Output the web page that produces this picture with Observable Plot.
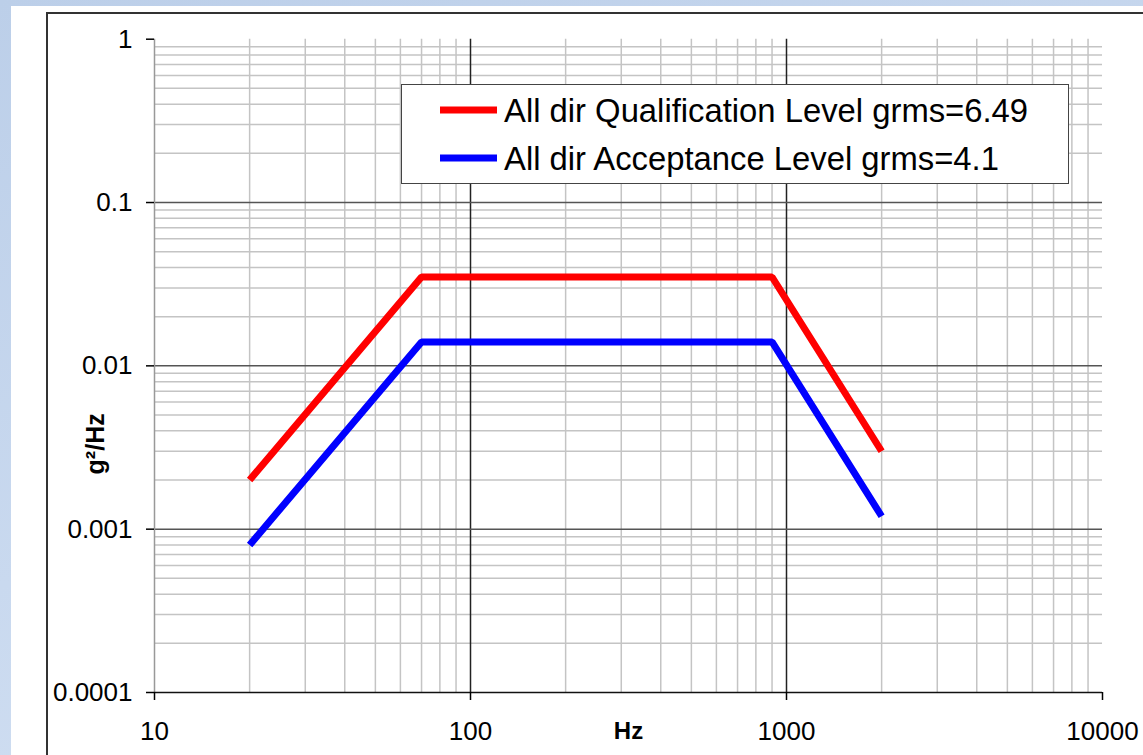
<!DOCTYPE html>
<html>
<head>
<meta charset="utf-8">
<script src="https://cdn.jsdelivr.net/npm/d3@7"></script>
<script src="https://cdn.jsdelivr.net/npm/@observablehq/plot@0.6"></script>
<style>
  html, body { margin: 0; padding: 0; width: 1143px; height: 755px; overflow: hidden; }
  body { background: linear-gradient(160deg, #bccfe9 0%, #c9d9ef 50%, #d6e3f3 100%); position: relative; font-family: "Liberation Sans", Arial, sans-serif; }
  #paper { position: absolute; left: 11px; top: 6px; width: 1200px; height: 800px; background: #fff; }
  #border { position: absolute; left: 46px; top: 12px; width: 1200px; height: 800px; border-left: 2px solid #333; border-top: 2px solid #333; }
  #chart { position: absolute; left: 0; top: 0; }
  #legend { position: absolute; left: 401px; top: 84px; width: 666px; height: 98px; background: #fff; border: 1.5px solid #444; }
  #chart g[aria-label$="tick label"], #chart g[aria-label$="tick label"] text { font-size: 26px !important; }
</style>
</head>
<body>
<div id="paper"></div>
<div id="border"></div>
<div id="chart"></div>
<div id="legend"></div>
<script>
// ---- data ----
const freq = [20, 70, 900, 2000];
const qualification = [0.002, 0.035, 0.035, 0.003];
const acceptance = [0.0008, 0.014, 0.014, 0.0012];
const seriesNames = ["All dir Qualification Level grms=6.49", "All dir Acceptance Level grms=4.1"];
const seriesColors = ["#ff0000", "#0000ff"];
const xTickValues = [10, 100, 1000, 10000];
const xTickLabels = ["10", "100", "1000", "10000"];
const yTickValues = [1, 0.1, 0.01, 0.001, 0.0001];
const yTickLabels = ["1", "0.1", "0.01", "0.001", "0.0001"];
const xLabel = "Hz";
const yLabel = "g²/Hz";

// ---- table ----
const rows = [];
freq.forEach((f, i) => rows.push({series: seriesNames[0], f, v: qualification[i]}));
freq.forEach((f, i) => rows.push({series: seriesNames[1], f, v: acceptance[i]}));

const isDecade = v => Math.abs(Math.log10(v) - Math.round(Math.log10(v))) < 1e-9;
const xAll = d3.scaleLog().domain([10, 10000]).ticks();
const yAll = d3.scaleLog().domain([1e-4, 1]).ticks();
const xMinor = xAll.filter(v => !isDecade(v));
const yMinor = yAll.filter(v => !isDecade(v));
const xMajor = [100, 1000];
const yMajor = [0.1, 0.01, 0.001];

const xFmt = new Map(xTickValues.map((v, i) => [v, xTickLabels[i]]));
const yFmt = new Map(yTickValues.map((v, i) => [v, yTickLabels[i]]));

const chart = Plot.plot({
  width: 1143,
  height: 755,
  marginLeft: 154,
  marginRight: 41,
  marginTop: 38.7,
  marginBottom: 63,
  style: {background: "transparent", fontFamily: "'Liberation Sans', Arial, sans-serif", fontSize: "26px", color: "#000", overflow: "visible"},
  x: {type: "log", domain: [10, 10000]},
  y: {type: "log", domain: [1e-4, 1]},
  color: {domain: seriesNames, range: seriesColors},
  marks: [
    Plot.ruleX(xMinor, {stroke: "#c4c4c4", strokeWidth: 1.5}),
    Plot.ruleY(yMinor, {stroke: "#c4c4c4", strokeWidth: 1.5}),
    Plot.ruleX(xMajor, {stroke: "#222", strokeWidth: 1.5}),
    Plot.ruleY(yMajor, {stroke: "#555", strokeWidth: 1.5}),
    Plot.ruleX([10], {stroke: "#999", strokeWidth: 1.5}),
    Plot.ruleY([1e-4], {stroke: "#111", strokeWidth: 1.5}),
    Plot.axisY({ticks: yTickValues, tickFormat: d => yFmt.get(d), tickSize: 8, tickPadding: 14, fontSize: 26, label: null, stroke: "#000", strokeWidth: 1.5}),
    Plot.axisX({ticks: xTickValues, tickFormat: d => xFmt.get(d), tickSize: 8, tickPadding: 21, fontSize: 26, label: null, stroke: "#000", strokeWidth: 1.5}),
    Plot.text([xLabel], {frameAnchor: "bottom", text: d => d, dy: 39, lineAnchor: "middle", fontWeight: "bold", fontSize: 24}),
    Plot.text([yLabel], {frameAnchor: "left", text: d => d, dx: -59, dy: 78, rotate: -90, textAnchor: "middle", lineAnchor: "middle", fontWeight: "bold", fontSize: 25}),
    Plot.line(rows, {x: "f", y: "v", z: "series", stroke: "series", strokeWidth: 7, strokeLinejoin: "miter", strokeLinecap: "butt"})
  ]
});
document.getElementById("chart").appendChild(chart);

// ---- legend ----
const ns = "http://www.w3.org/2000/svg";
const lg = document.createElementNS(ns, "svg");
lg.setAttribute("width", 666);
lg.setAttribute("height", 98);
const rowsY = [25, 73];
seriesNames.forEach((name, i) => {
  const ln = document.createElementNS(ns, "line");
  ln.setAttribute("x1", 38); ln.setAttribute("x2", 95);
  ln.setAttribute("y1", rowsY[i]); ln.setAttribute("y2", rowsY[i]);
  ln.setAttribute("stroke", seriesColors[i]); ln.setAttribute("stroke-width", 7);
  lg.appendChild(ln);
  const t = document.createElementNS(ns, "text");
  t.setAttribute("x", 102); t.setAttribute("y", rowsY[i] + 11.5);
  t.setAttribute("font-size", 32.8);
  t.setAttribute("font-family", "'Liberation Sans', Arial, sans-serif");
  t.setAttribute("fill", "#000");
  t.textContent = name;
  lg.appendChild(t);
});
document.getElementById("legend").appendChild(lg);
</script>
</body>
</html>
